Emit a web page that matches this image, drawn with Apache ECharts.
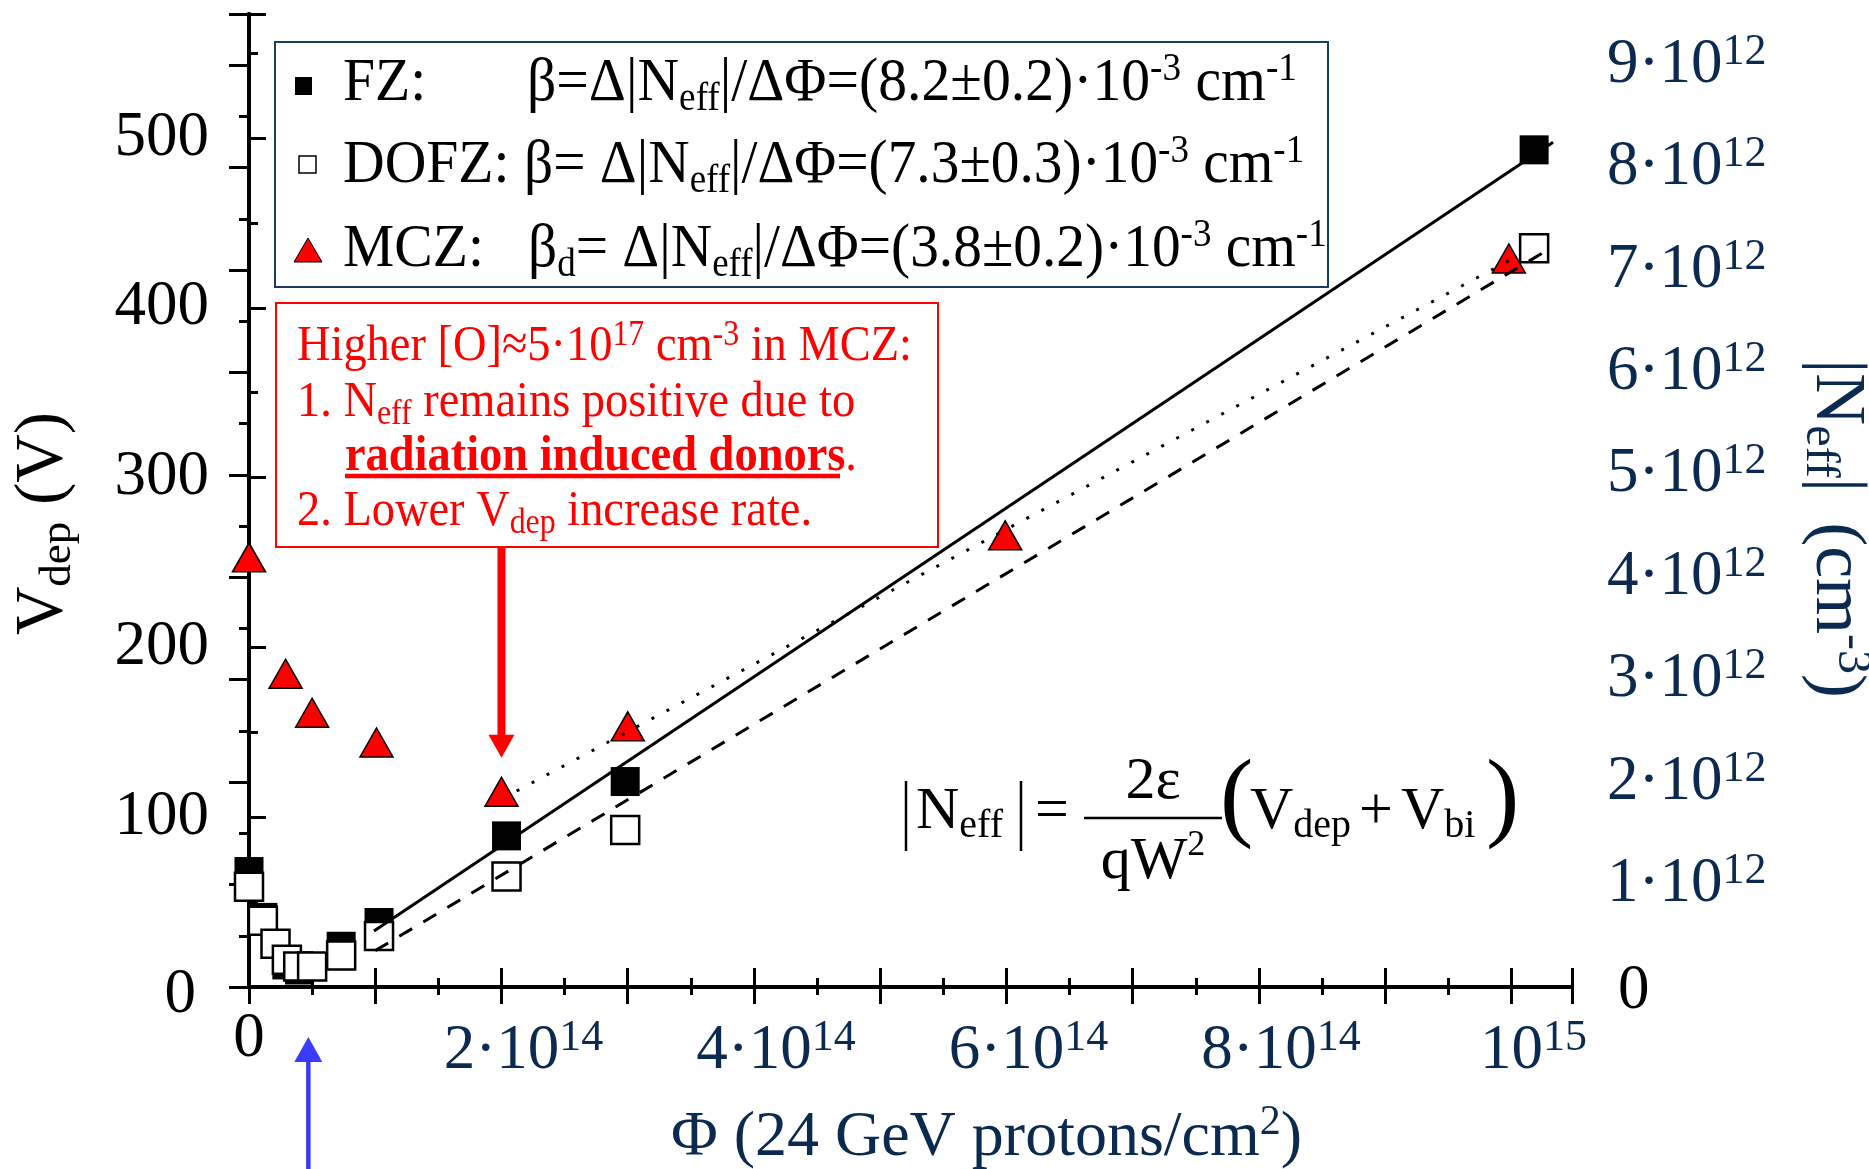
<!DOCTYPE html>
<html>
<head>
<meta charset="utf-8">
<script src="https://cdn.jsdelivr.net/npm/echarts@6/dist/echarts.min.js"></script>
<style>
  html, body { margin: 0; padding: 0; background: #ffffff; overflow: hidden; }
  #chart { width: 1869px; height: 1169px; }
</style>
</head>
<body>
<div id="chart"></div>
<script>
// Full depletion voltage vs. 24 GeV proton fluence for FZ, DOFZ and MCZ silicon detectors

// ---- measured points ----
const fzFluence   = [0, 0.11e14, 0.30e14, 0.40e14, 0.73e14, 1.03e14, 2.04e14, 2.98e14, 1.018e15];
const fzVdep      = [68, 41, 13, 10, 24, 38, 89, 121, 493];

const dofzFluence = [0, 0.11e14, 0.21e14, 0.30e14, 0.39e14, 0.50e14, 0.73e14, 1.03e14, 2.04e14, 2.98e14, 1.018e15];
const dofzVdep    = [59, 39, 25.5, 16, 12, 12, 18.5, 30, 65, 92.5, 435];

const mczFluence  = [0, 0.29e14, 0.50e14, 1.01e14, 2.0e14, 3.0e14, 5.99e14, 9.98e14];
const mczVdep     = [253, 184.5, 161.5, 144, 115, 153.5, 266, 429];

// ---- linear fits above type inversion ----
const fzFitFluence   = [0.99e14, 1.033e15];
const fzFitVdep      = [33, 497.5];
const dofzFitFluence = [1.0e14, 1.024e15];
const dofzFitVdep    = [21.4, 432];
const mczFitFluence  = [2.12e14, 1.0e15];
const mczFitVdep     = [115.4, 428.5];

// ---- axes ----
const fluenceMax = 1.048e15;
const vdepMax    = 573;
const neffMax    = 9.5e12;     // same pixel span as vdepMax on the left axis

const xLabelValues = [0, 2e14, 4e14, 6e14, 8e14, 1e15];
const xLabelBase   = ['0', '2·10', '4·10', '6·10', '8·10', '10'];
const xLabelExp    = ['', '14', '14', '14', '14', '15'];

const neffLabelValues = [0, 1e12, 2e12, 3e12, 4e12, 5e12, 6e12, 7e12, 8e12, 9e12];
const neffLabelBase   = ['0', '1·10', '2·10', '3·10', '4·10', '5·10', '6·10', '7·10', '8·10', '9·10'];
const neffLabelExp    = ['', '12', '12', '12', '12', '12', '12', '12', '12', '12'];

// markers used for the inversion point and the MCZ remark
const inversionFluence = 0.47e14;
const remarkPoint = [2.0e14, 115];

const FONT  = '"Liberation Serif", "Times New Roman", Times, serif';
const NAVY  = '#0c2a4f';
const BLACK = '#000000';
const RED   = '#ff0000';

function zip(xs, ys) { return xs.map((x, i) => [x, ys[i]]); }
function findIndex(values, v, tol) {
  for (let i = 0; i < values.length; i++) if (Math.abs(values[i] - v) < tol) return i;
  return -1;
}

const tickRich = {
  b: { fontFamily: FONT, fontSize: 63, color: NAVY, lineHeight: 70 },
  s: { fontFamily: FONT, fontSize: 44, color: NAVY, lineHeight: 44, verticalAlign: 'top' },
  p: { width: 44, lineHeight: 70 },
  z: { fontFamily: FONT, fontSize: 63, color: BLACK, lineHeight: 46 },
  zr: { fontFamily: FONT, fontSize: 63, color: BLACK, lineHeight: 70, padding: [8, 0, 0, 11] },
  zl: { fontFamily: FONT, fontSize: 63, color: BLACK, lineHeight: 70, padding: [16, 13, 0, 0] },
  k: { fontFamily: FONT, fontSize: 63, color: BLACK, lineHeight: 70 }
};

function xLabel(v) {
  const i = findIndex(xLabelValues, v, 1e9);
  if (i < 0) return '';
  if (i === 0) return '{z|0}';
  return '{p| }{b|' + xLabelBase[i] + '}{s|' + xLabelExp[i] + '}';
}
function neffLabel(v) {
  const i = findIndex(neffLabelValues, v, 1e7);
  if (i < 0) return '';
  if (i === 0) return '{zr|0}';
  return '{b|' + neffLabelBase[i] + '}{s|' + neffLabelExp[i] + '}';
}
function vdepLabel(v) {
  if (Math.abs(v - Math.round(v / 100) * 100) > 1e-6 || v > 500) return '';
  if (v === 0) return '{zl|0}';
  return '{k|' + v + '}';
}

function tickAxis(opts) {
  return Object.assign({
    type: 'value',
    gridIndex: 0,
    splitLine: { show: false },
    axisLine: { show: false, lineStyle: { color: BLACK, width: 4 } },
    axisTick: { show: true, inside: true, length: 9, lineStyle: { color: BLACK, width: 3 } },
    axisLabel: { show: false }
  }, opts);
}

const nameRich = {
  m: { fontFamily: FONT, fontSize: 64, color: NAVY, lineHeight: 72 },
  u: { fontFamily: FONT, fontSize: 42, color: NAVY, lineHeight: 42, verticalAlign: 'top' },
  v: { fontFamily: FONT, fontSize: 67, color: BLACK, lineHeight: 76 },
  d: { fontFamily: FONT, fontSize: 45, color: BLACK, lineHeight: 49, verticalAlign: 'bottom' },
  n: { fontFamily: FONT, fontSize: 72, color: NAVY, lineHeight: 80 },
  g: { width: 30, lineHeight: 80 },
  e: { fontFamily: FONT, fontSize: 48, color: NAVY, lineHeight: 54, verticalAlign: 'bottom' },
  c: { fontFamily: FONT, fontSize: 48, color: NAVY, lineHeight: 48, verticalAlign: 'top' }
};

const option = {
  animation: false,
  backgroundColor: '#ffffff',
  grid: { left: 249, right: 297, top: 14, bottom: 182, containLabel: false, outerBoundsMode: 'none' },
  xAxis: [
    tickAxis({
      position: 'bottom', min: 0, max: fluenceMax, interval: 1e14,
      axisLine: { show: true, lineStyle: { color: BLACK, width: 4 } },
      axisTick: { show: true, inside: true, length: 19, lineStyle: { color: BLACK, width: 3 } },
      axisLabel: { show: true, margin: 29, formatter: xLabel, rich: tickRich, hideOverlap: false },
      name: '{m|Φ (24 GeV protons/cm}{u|2}{m|)}',
      nameLocation: 'middle', nameGap: 115,
      nameTextStyle: { rich: nameRich, padding: [0, 0, 0, 152] }
    }),
    tickAxis({ position: 'bottom', min: 0, max: fluenceMax, interval: 0.5e14 }),
    tickAxis({
      position: 'top', min: 0, max: fluenceMax, interval: 1e14,
      axisLine: { show: true, lineStyle: { color: BLACK, width: 4 } },
      axisTick: { show: true, inside: true, length: 17, lineStyle: { color: BLACK, width: 3 } }
    }),
    tickAxis({
      position: 'top', min: 0, max: fluenceMax, interval: 0.5e14,
      axisTick: { show: true, inside: true, length: 8, lineStyle: { color: BLACK, width: 3 } }
    })
  ],
  yAxis: [
    tickAxis({
      position: 'left', min: 0, max: vdepMax, interval: 100,
      axisLine: { show: true, lineStyle: { color: BLACK, width: 4 } },
      axisTick: { show: true, inside: true, length: 17, lineStyle: { color: BLACK, width: 3 } },
      axisLabel: { show: true, margin: 40, formatter: vdepLabel, rich: tickRich },
      name: '{v|V}{d|dep}{v| (V)}',
      nameLocation: 'middle', nameRotate: 90, nameGap: 168,
      nameTextStyle: { rich: nameRich, padding: [0, 46, 0, 0] }
    }),
    tickAxis({ position: 'left', min: 0, max: vdepMax, interval: 50 }),
    tickAxis({
      position: 'right', min: 0, max: neffMax, interval: 1e12,
      axisLine: { show: true, lineStyle: { color: BLACK, width: 4 } },
      axisTick: { show: true, inside: true, length: 20, lineStyle: { color: BLACK, width: 3 } },
      axisLabel: { show: true, margin: 35, formatter: neffLabel, rich: tickRich },
      name: '{n||N}{e|eff}{n||}{g| }{n|(cm}{c|-3}{n|)}',
      nameLocation: 'middle', nameRotate: -90, nameGap: 224,
      nameTextStyle: { rich: nameRich, padding: [0, 0, 0, 56] }
    }),
    tickAxis({
      position: 'right', min: 0, max: neffMax, interval: 0.5e12,
      axisTick: { show: true, inside: true, length: 10, lineStyle: { color: BLACK, width: 3 } }
    })
  ],
  series: [
    {
      name: 'FZ', type: 'scatter', xAxisIndex: 0, yAxisIndex: 0, z: 2,
      symbol: 'rect', symbolSize: 29,
      itemStyle: { color: BLACK, borderColor: BLACK, borderWidth: 0, opacity: 1 },
      data: zip(fzFluence, fzVdep)
    },
    {
      name: 'DOFZ', type: 'scatter', xAxisIndex: 0, yAxisIndex: 0, z: 2,
      symbol: 'rect', symbolSize: 28,
      itemStyle: { color: '#ffffff', borderColor: BLACK, borderWidth: 2.5, opacity: 1 },
      data: zip(dofzFluence, dofzVdep)
    },
    {
      name: 'MCZ', type: 'scatter', xAxisIndex: 0, yAxisIndex: 0, z: 2,
      symbol: 'triangle', symbolSize: [33, 29],
      itemStyle: { color: RED, borderColor: BLACK, borderWidth: 1.5, opacity: 1 },
      data: zip(mczFluence, mczVdep)
    },
    {
      name: 'FZ fit', type: 'line', xAxisIndex: 0, yAxisIndex: 0, z: 3,
      symbol: 'none', silent: true,
      lineStyle: { color: BLACK, width: 3, type: 'solid' },
      data: zip(fzFitFluence, fzFitVdep)
    },
    {
      name: 'DOFZ fit', type: 'line', xAxisIndex: 0, yAxisIndex: 0, z: 3,
      symbol: 'none', silent: true,
      lineStyle: { color: BLACK, width: 3, type: [15, 13] },
      data: zip(dofzFitFluence, dofzFitVdep)
    },
    {
      name: 'MCZ fit', type: 'line', xAxisIndex: 0, yAxisIndex: 0, z: 3,
      symbol: 'none', silent: true,
      lineStyle: { color: BLACK, width: 3, type: [3, 14] },
      data: zip(mczFitFluence, mczFitVdep)
    }
  ]
};

const chart = echarts.init(document.getElementById('chart'), null, { renderer: 'canvas' });
chart.setOption(option);

// ---- legend, remark box, formula and arrows ----
const legendRich = {
  m: { fontFamily: FONT, fontSize: 62, fill: BLACK, lineHeight: 70 },
  s: { fontFamily: FONT, fontSize: 40, fill: BLACK, lineHeight: 45, verticalAlign: 'bottom' },
  u: { fontFamily: FONT, fontSize: 40, fill: BLACK, lineHeight: 40, verticalAlign: 'top' }
};
const remarkRich = {
  m: { fontFamily: FONT, fontSize: 51, fill: RED, lineHeight: 58 },
  b: { fontFamily: FONT, fontSize: 51, fill: RED, lineHeight: 58, fontWeight: 'bold' },
  s: { fontFamily: FONT, fontSize: 35, fill: RED, lineHeight: 37, verticalAlign: 'bottom' },
  u: { fontFamily: FONT, fontSize: 35, fill: RED, lineHeight: 35, verticalAlign: 'top' }
};
const eqRich = {
  m: { fontFamily: FONT, fontSize: 60, fill: BLACK, lineHeight: 68 },
  s: { fontFamily: FONT, fontSize: 40, fill: BLACK, lineHeight: 44, verticalAlign: 'bottom' },
  u: { fontFamily: FONT, fontSize: 36, fill: BLACK, lineHeight: 36, verticalAlign: 'top' },
  o: { fontFamily: FONT, fontSize: 60, fill: BLACK, lineHeight: 68, padding: [0, 8, 0, 8] }
};

function richText(x, y, text, rich, extra, align) {
  return Object.assign({
    type: 'text', x: x, y: y, z: 100,
    style: { text: text, rich: rich, align: align || 'left', verticalAlign: 'middle' }
  }, extra || {});
}

const remarkTip = chart.convertToPixel({ xAxisIndex: 0, yAxisIndex: 0 }, remarkPoint);
const inversionX = chart.convertToPixel({ xAxisIndex: 0 }, inversionFluence);
const legendScale = { scaleX: 0.93 };
const remarkScale = { scaleX: 0.91 };

const graphics = [
  // legend
  { type: 'rect', z: 90, shape: { x: 275, y: 42, width: 1053, height: 245 },
    style: { fill: '#ffffff', stroke: '#1d3b61', lineWidth: 2 } },
  { type: 'rect', z: 100, shape: { x: 295, y: 77, width: 17, height: 18 }, style: { fill: BLACK } },
  { type: 'rect', z: 100, shape: { x: 299, y: 156, width: 17, height: 17 },
    style: { fill: '#ffffff', stroke: BLACK, lineWidth: 1.5 } },
  { type: 'polygon', z: 100, shape: { points: [[294, 262], [322, 262], [308, 238]] },
    style: { fill: RED, stroke: BLACK, lineWidth: 1 } },
  richText(343, 84, '{m|FZ:}', legendRich, legendScale),
  richText(527, 84, '{m|β=Δ|N}{s|eff}{m||/ΔΦ=(8.2±0.2)·10}{u|-3}{m| cm}{u|-1}', legendRich, legendScale),
  richText(343, 166, '{m|DOFZ:}', legendRich, legendScale),
  richText(524, 166, '{m|β= Δ|N}{s|eff}{m||/ΔΦ=(7.3±0.3)·10}{u|-3}{m| cm}{u|-1}', legendRich, { scaleX: 0.925 }),
  richText(343, 250, '{m|MCZ:}', legendRich, legendScale),
  richText(528, 250, '{m|β}{s|d}{m|= Δ|N}{s|eff}{m||/ΔΦ=(3.8±0.2)·10}{u|-3}{m| cm}{u|-1}', legendRich, { scaleX: 0.925 }),

  // remark box on MCZ
  { type: 'rect', z: 90, shape: { x: 276, y: 303, width: 662, height: 244 },
    style: { fill: '#ffffff', stroke: RED, lineWidth: 2 } },
  richText(297, 347, '{m|Higher [O]≈5·10}{u|17}{m| cm}{u|-3}{m| in MCZ:}', remarkRich, remarkScale),
  richText(297, 403, '{m|1. N}{s|eff}{m| remains positive due to}', remarkRich, remarkScale),
  richText(345, 457, '{b|radiation induced donors}{m|.}', remarkRich, remarkScale),
  { type: 'line', z: 100, shape: { x1: 345, y1: 476, x2: 840, y2: 476 }, style: { stroke: RED, lineWidth: 4.5 } },
  richText(297, 512, '{m|2. Lower V}{s|dep}{m| increase rate.}', remarkRich, remarkScale),

  // red arrow from the remark to the MCZ point
  { type: 'line', z: 100, shape: { x1: remarkTip[0], y1: 547, x2: remarkTip[0], y2: remarkTip[1] - 54 },
    style: { stroke: RED, lineWidth: 8 } },
  { type: 'polygon', z: 100,
    shape: { points: [[remarkTip[0] - 13, remarkTip[1] - 57], [remarkTip[0] + 13, remarkTip[1] - 57], [remarkTip[0], remarkTip[1] - 34]] },
    style: { fill: RED } },

  // blue arrow marking the type inversion
  { type: 'line', z: 100, shape: { x1: inversionX, y1: 1169, x2: inversionX, y2: 1060 },
    style: { stroke: '#3b3bff', lineWidth: 4.5 } },
  { type: 'polygon', z: 100,
    shape: { points: [[inversionX - 14, 1062], [inversionX + 14, 1062], [inversionX, 1037]] },
    style: { fill: '#3b3bff' } },

  // |Neff| = 2ε/(qW²) (Vdep + Vbi)
  { type: 'line', z: 100, shape: { x1: 906, y1: 781, x2: 906, y2: 851 }, style: { stroke: BLACK, lineWidth: 2.5 } },
  richText(916, 812, '{m|N}{s|eff}', eqRich),
  { type: 'line', z: 100, shape: { x1: 1021, y1: 781, x2: 1021, y2: 851 }, style: { stroke: BLACK, lineWidth: 2.5 } },
  richText(1052, 812, '{m|=}', eqRich, null, 'center'),
  { type: 'line', z: 100, shape: { x1: 1084, y1: 818, x2: 1222, y2: 818 }, style: { stroke: BLACK, lineWidth: 2.5 } },
  richText(1153, 782, '{m|2ε}', eqRich, null, 'center'),
  richText(1153, 862, '{m|qW}{u|2}', eqRich, null, 'center'),
  { type: 'text', z: 100, x: 1220, y: 802,
    style: { text: '(', fontFamily: FONT, fontSize: 100, fill: BLACK, align: 'left', verticalAlign: 'middle' } },
  richText(1250, 812, '{m|V}{s|dep}{o|+}{m|V}{s|bi}', eqRich),
  { type: 'text', z: 100, x: 1486, y: 802,
    style: { text: ')', fontFamily: FONT, fontSize: 100, fill: BLACK, align: 'left', verticalAlign: 'middle' } }
];

chart.setOption({ graphic: graphics });
</script>
</body>
</html>
